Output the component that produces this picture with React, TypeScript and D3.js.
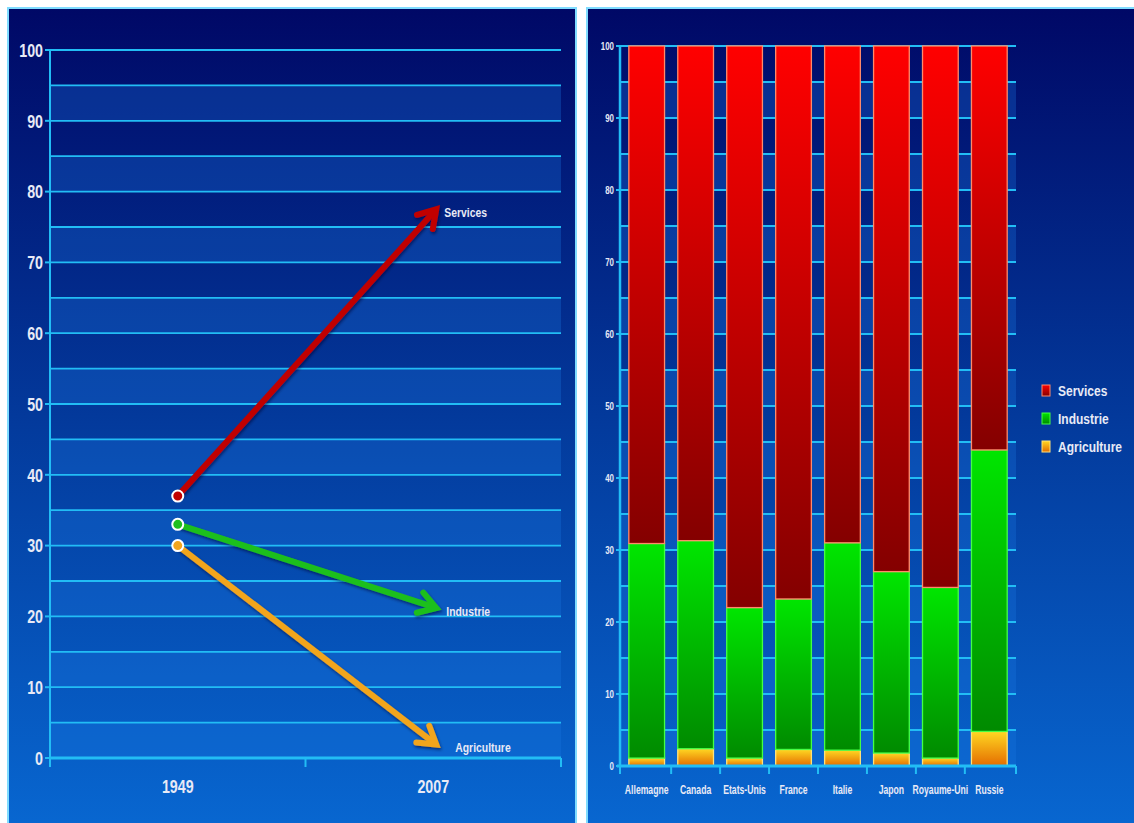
import React from "react";
import * as d3 from "d3";

// ---------- data ----------
const years = ["1949", "2007"];
const lineSeries = ["Services", "Industrie", "Agriculture"];
const servicesTrend = [37, 77.5];
const industrieTrend = [33, 21.2];
const agricultureTrend = [30, 1.9];

const countries = ["Allemagne", "Canada", "Etats-Unis", "France", "Italie", "Japon", "Royaume-Uni", "Russie"];
const agriculture = [1.1, 2.4, 1.1, 2.3, 2.2, 1.8, 1.1, 4.8];
const industrie = [29.8, 28.9, 20.9, 20.9, 28.8, 25.2, 23.7, 39.1];
const services = [69.1, 68.7, 78.0, 76.8, 69.0, 73.0, 75.2, 56.1];

const yTicks = [0, 10, 20, 30, 40, 50, 60, 70, 80, 90, 100];
const gridValues = d3.range(0, 101, 5);

// ---------- styles ----------
const W = 1134;
const H = 823;
const FONT = "'Liberation Sans', Arial, sans-serif";
const TXT = "#e8eaf6";
const GRID = "#22bdf5";
const lineColors: Record<string, string> = { Services: "#c00000", Industrie: "#1fbf1f", Agriculture: "#f2a51e" };
const labelDx: Record<string, number> = { Services: 11, Industrie: 13, Agriculture: 22 };

// condensed text (Arial Narrow look) via horizontal scaling
function T(props: { x: number; y: number; size: number; anchor?: string; children: React.ReactNode; sx?: number }) {
  const { x, y, size, anchor = "start", children, sx = 0.8 } = props;
  return (
    <text
      transform={`translate(${x},${y}) scale(${sx},1)`}
      dy="0.36em"
      textAnchor={anchor}
      fill={TXT}
      fontSize={size}
      fontWeight="bold"
    >
      {children}
    </text>
  );
}

export default function App() {
  // left chart scales
  const yL = d3.scaleLinear().domain([0, 100]).range([758, 50]);
  const xL = d3.scaleBand<string>().domain(years).range([50, 561]);
  const trendData: Record<string, number[]> = {
    Services: servicesTrend,
    Industrie: industrieTrend,
    Agriculture: agricultureTrend,
  };

  // right chart scales
  const yR = d3.scaleLinear().domain([0, 100]).range([766, 46]);
  const xR = d3.scaleBand<string>().domain(countries).range([620, 1016]).paddingInner(0.27).paddingOuter(0.18);
  const stackRows = countries.map((c, i) => ({ country: c, Agriculture: agriculture[i], Industrie: industrie[i], Services: services[i] }));
  const stack = d3.stack<any>().keys(["Agriculture", "Industrie", "Services"])(stackRows);
  const segStroke: Record<string, string> = { Services: "#ff8a6a", Industrie: "#44ff44", Agriculture: "#ffe27a" };

  const step = xR.step();
  const boundaries = countries.map((c) => (xR(c) as number) - (step * xR.paddingInner()) / 2);
  boundaries[0] = 620;
  boundaries.push(1016);

  const arrowHead = (x1: number, y1: number, x2: number, y2: number) => {
    const a = Math.atan2(y2 - y1, x2 - x1);
    const L = 20;
    const s = (32 * Math.PI) / 180;
    const p1 = [x2 - L * Math.cos(a - s), y2 - L * Math.sin(a - s)];
    const p2 = [x2 - L * Math.cos(a + s), y2 - L * Math.sin(a + s)];
    return `M${p1[0]},${p1[1]}L${x2},${y2}L${p2[0]},${p2[1]}`;
  };

  const bandRects = (y: d3.ScaleLinear<number, number>, x0: number, x1: number) =>
    gridValues
      .filter((v) => v < 100 && (v / 5) % 2 === 0)
      .map((v) => (
        <rect key={"b" + v} x={x0} y={y(v + 5)} width={x1 - x0} height={y(v) - y(v + 5)} fill="#1a78e0" opacity={0.3} />
      ));

  return (
    <svg width={W} height={H} style={{ position: "absolute", left: 0, top: 0, background: "#ffffff" }} fontFamily={FONT}>
      <defs>
        <linearGradient id="bg" x1="0" y1="0" x2="0" y2="1">
          <stop offset="0" stopColor="#000866" />
          <stop offset="0.5" stopColor="#033a9c" />
          <stop offset="1" stopColor="#0868d2" />
        </linearGradient>
        <linearGradient id="gServices" x1="0" y1="0" x2="0" y2="1">
          <stop offset="0" stopColor="#ff0000" />
          <stop offset="1" stopColor="#840000" />
        </linearGradient>
        <linearGradient id="gIndustrie" x1="0" y1="0" x2="0" y2="1">
          <stop offset="0" stopColor="#00e600" />
          <stop offset="1" stopColor="#008a00" />
        </linearGradient>
        <linearGradient id="gAgriculture" x1="0" y1="0" x2="0" y2="1">
          <stop offset="0" stopColor="#ffd822" />
          <stop offset="1" stopColor="#e46c00" />
        </linearGradient>
        <filter id="shadow" x="-10%" y="-10%" width="120%" height="120%">
          <feDropShadow dx="1" dy="2" stdDeviation="1.5" floodColor="#000030" floodOpacity="0.55" />
        </filter>
      </defs>

      {/* panels */}
      <rect x={8} y={8} width={568} height={830} fill="url(#bg)" stroke="#7fdcff" strokeWidth={2} />
      <rect x={587} y={8} width={560} height={830} fill="url(#bg)" stroke="#7fdcff" strokeWidth={2} />

      {/* ---------- LEFT CHART ---------- */}
      {bandRects(yL, 50, 561)}
      {gridValues.map((v) => (
        <line key={"gl" + v} x1={50} x2={561} y1={yL(v)} y2={yL(v)} stroke={GRID} strokeWidth={1.8} />
      ))}
      <line x1={50} x2={50} y1={yL(100)} y2={yL(0) + 8} stroke={GRID} strokeWidth={2} />
      <line x1={50} x2={561} y1={yL(0)} y2={yL(0)} stroke={GRID} strokeWidth={3} />
      {yTicks.map((t) => (
        <g key={"lt" + t}>
          <line x1={45} x2={50} y1={yL(t)} y2={yL(t)} stroke={GRID} strokeWidth={2} />
          <T x={43} y={yL(t)} size={19} anchor="end" sx={0.75}>
            {t}
          </T>
        </g>
      ))}
      {[50, 305.5, 561].map((x, i) => (
        <line key={"xt" + i} x1={x} x2={x} y1={yL(0)} y2={yL(0) + 9} stroke={GRID} strokeWidth={2} />
      ))}
      {years.map((y) => (
        <T key={y} x={(xL(y) as number) + xL.bandwidth() / 2} y={786} size={19} anchor="middle" sx={0.75}>
          {y}
        </T>
      ))}

      {lineSeries.map((s) => {
        const vals = trendData[s];
        const x1 = (xL(years[0]) as number) + xL.bandwidth() / 2;
        const x2 = (xL(years[1]) as number) + xL.bandwidth() / 2 + 3;
        const y1 = yL(vals[0]);
        const y2 = yL(vals[1]);
        return (
          <g key={s} filter="url(#shadow)">
            <line x1={x1} y1={y1} x2={x2} y2={y2} stroke={lineColors[s]} strokeWidth={6} />
            <path d={arrowHead(x1, y1, x2, y2)} fill="none" stroke={lineColors[s]} strokeWidth={6} strokeLinejoin="miter" strokeLinecap="round" />
          </g>
        );
      })}
      {lineSeries.map((s) => {
        const vals = trendData[s];
        return (
          <circle
            key={"c" + s}
            cx={(xL(years[0]) as number) + xL.bandwidth() / 2}
            cy={yL(vals[0])}
            r={5.5}
            fill={lineColors[s]}
            stroke="#ffffff"
            strokeWidth={2}
          />
        );
      })}
      {lineSeries.map((s) => {
        const vals = trendData[s];
        return (
          <T key={"l" + s} x={(xL(years[1]) as number) + xL.bandwidth() / 2 + labelDx[s]} y={yL(vals[1]) + 3} size={13} sx={0.8}>
            {s}
          </T>
        );
      })}

      {/* ---------- RIGHT CHART ---------- */}
      {bandRects(yR, 620, 1016)}
      {gridValues.map((v) => (
        <line key={"gr" + v} x1={620} x2={1016} y1={yR(v)} y2={yR(v)} stroke={GRID} strokeWidth={1.8} />
      ))}
      {stack.map((layer) => (
        <g key={layer.key}>
          {layer.map((d, i) => (
            <rect
              key={countries[i]}
              x={xR(countries[i])}
              y={yR(d[1])}
              width={xR.bandwidth()}
              height={yR(d[0]) - yR(d[1])}
              fill={`url(#g${layer.key})`}
              stroke={segStroke[layer.key]}
              strokeWidth={1.3}
            />
          ))}
        </g>
      ))}
      <line x1={620} x2={620} y1={yR(100)} y2={yR(0)} stroke={GRID} strokeWidth={2.5} />
      <line x1={617} x2={1016} y1={yR(0)} y2={yR(0)} stroke={GRID} strokeWidth={3} />
      {yTicks.map((t) => (
        <g key={"rt" + t}>
          <line x1={616} x2={620} y1={yR(t)} y2={yR(t)} stroke={GRID} strokeWidth={2} />
          <T x={614} y={yR(t)} size={11} anchor="end" sx={0.72}>
            {t}
          </T>
        </g>
      ))}
      {boundaries.map((x, i) => (
        <line key={"bt" + i} x1={x} x2={x} y1={yR(0)} y2={yR(0) + 8} stroke={GRID} strokeWidth={2} />
      ))}
      {countries.map((c) => (
        <T key={"x" + c} x={(xR(c) as number) + xR.bandwidth() / 2} y={790} size={12} anchor="middle" sx={0.72}>
          {c}
        </T>
      ))}

      {/* legend */}
      {lineSeries.map((s, i) => (
        <g key={"leg" + s} transform={`translate(1042, ${391 + i * 28})`}>
          <rect x={0} y={-6} width={8} height={11} fill={`url(#g${s})`} stroke={segStroke[s]} strokeWidth={1} />
          <T x={16} y={0} size={15} sx={0.8}>
            {s}
          </T>
        </g>
      ))}
    </svg>
  );
}
